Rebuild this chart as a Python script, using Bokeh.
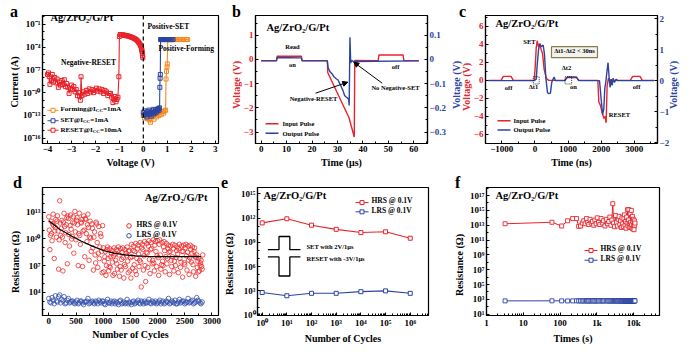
import math
from bokeh.plotting import figure
from bokeh.models import (Range1d, LinearAxis, FixedTicker, CustomJSTickFormatter, Label,
                          Span, Arrow, NormalHead)
from bokeh.layouts import row, column
from bokeh.embed import file_html
from bokeh.resources import INLINE

FONT = "Liberation Serif"
RED = "#e8232b"
BLUE = "#2b44a0"
ORANGE = "#f58a1f"

# ---------------- (a) I-V sweeps: voltage (V), log10 current (A) ----------------
forming_v = [0.0, 0.05, 0.1, 0.15, 0.2, 0.25, 0.3, 0.35, 0.4, 0.45, 0.5, 0.55, 0.6, 0.65, 0.7,
             0.75, 0.8, 0.85, 0.9, 0.93, 0.95, 0.97, 0.99, 1.0, 1.02, 1.08, 1.14, 1.2, 1.26,
             1.32, 1.38, 1.44, 1.5, 1.56, 1.62, 1.68, 1.74, 1.8, 1.85]
forming_logi = [-13.0, -13.3, -12.8, -13.4, -13.1, -13.6, -13.9, -13.2, -13.0, -13.5, -12.9,
                -13.2, -12.7, -13.0, -12.6, -12.9, -12.5, -12.7, -12.4, -12.3, -8.2, -7.2,
                -6.6, -6.2, -3.0, -3.0, -3.0, -3.0, -3.0, -3.0, -3.0, -3.0, -3.0, -3.0, -3.0,
                -3.0, -3.0, -3.0, -3.0]
set_v = [0.0, 0.03, 0.06, 0.09, 0.12, 0.15, 0.18, 0.21, 0.24, 0.27, 0.3, 0.33, 0.36, 0.39,
         0.42, 0.45, 0.48, 0.51, 0.54, 0.57, 0.6, 0.63, 0.66, 0.68, 0.69, 0.7, 0.71, 0.72,
         0.76, 0.8, 0.84, 0.88, 0.92, 0.96, 1.0, 1.04, 1.08, 1.12, 1.16, 1.2, 1.24]
set_logi = [-12.6, -13.0, -12.4, -12.9, -12.7, -13.2, -12.5, -12.8, -12.3, -12.9, -12.6, -13.1,
            -12.4, -12.7, -12.2, -12.8, -12.5, -12.3, -12.6, -12.2, -12.4, -12.1, -12.3,
            -12.0, -9.3, -8.1, -7.6, -3.0, -3.0, -3.0, -3.0, -3.0, -3.0, -3.0, -3.0, -3.0,
            -3.0, -3.0, -3.0, -3.0, -3.0]
reset_v = [-0.02, -0.03, -0.04, -0.05, -0.06, -0.07, -0.08, -0.1, -0.12, -0.14, -0.17, -0.2,
           -0.23, -0.26, -0.3, -0.34, -0.38, -0.42, -0.46, -0.5, -0.54, -0.58, -0.62, -0.66,
           -0.7, -0.74, -0.78, -0.82, -0.86, -0.9, -0.94, -0.97, -1.0,
           -1.02, -1.06, -1.1, -1.14, -1.18, -1.22, -1.27, -1.32, -1.37, -1.42, -1.48, -1.54,
           -1.6, -1.66, -1.72, -1.78, -1.84, -1.9, -1.96, -2.02, -2.08, -2.14, -2.2, -2.26,
           -2.32, -2.38, -2.44, -2.5, -2.56, -2.6, -2.63, -2.66, -2.7, -2.75, -2.8, -2.85,
           -2.9, -2.95, -3.0, -3.05, -3.1, -3.15, -3.2, -3.25, -3.3, -3.35, -3.4, -3.45, -3.5,
           -3.55, -3.6, -3.65, -3.7, -3.75, -3.8, -3.85, -3.9, -3.93, -3.96, -4.0]
reset_logi = [-5.4, -5.15, -4.85, -4.6, -4.4, -4.24, -4.1, -3.9, -3.75, -3.62, -3.47, -3.34,
              -3.22, -3.12, -3.0, -2.92, -2.85, -2.79, -2.73, -2.68, -2.63, -2.59, -2.55,
              -2.52, -2.49, -2.46, -2.43, -2.41, -2.39, -2.37, -2.35, -2.34, -2.6,
              -7.9, -10.6, -10.9, -11.2, -10.5, -10.8, -11.3, -10.6, -10.1, -10.1, -10.4,
              -9.9, -9.7, -10.1, -9.6, -9.9, -9.5, -9.8, -9.4, -9.7, -10.0, -9.6, -9.9, -9.5,
              -10.1, -9.7, -10.2, -9.9, -10.4, -7.9, -11.0, -10.5, -10.0, -10.4, -9.6, -9.9,
              -9.2, -9.6, -9.0, -9.5, -10.1, -9.3, -8.8, -9.2, -8.3, -8.9, -8.4, -9.0, -8.6,
              -9.3, -8.2, -8.7, -8.0, -8.6, -7.6, -8.4, -8.9, -7.9, -7.4, -7.6]

# ---------------- (b) pulse response (us, V) ----------------
b_in_t = [0, 6, 6.3, 15.8, 16.1, 26.0, 26.2, 30, 34.5, 36.6, 36.8, 46, 46.3, 55.8, 56.1, 62]
b_in_v = [-0.05, -0.05, 0.13, 0.13, -0.05, -0.05, -0.55, -1.4, -2.4, -3.2, -0.04, -0.05,
          0.18, 0.18, -0.05, -0.05]
b_out_t = [0, 6, 6.3, 15.8, 16.1, 26.0, 26.3, 27.0, 28.0, 28.6, 29.5, 30.2, 30.9, 31.5, 32.2,
           32.8, 33.4, 33.9, 34.4, 34.6, 34.9, 35.2, 35.6, 36.2, 62]
b_out_v = [-0.006, -0.006, 0.008, 0.006, -0.006, -0.006, -0.034, -0.05, -0.061, -0.072,
           -0.08, -0.085, -0.1, -0.113, -0.13, -0.149, -0.155, -0.159, -0.165, -0.19, 0.091,
           -0.015, -0.004, -0.009, -0.006]

# ---------------- (c) pulse response (ns, V) ----------------
c_in_t = [-1400, -1020, -950, -720, -650, -20, 10, 40, 70, 110, 150, 190, 230, 280, 350, 420,
          910, 980, 1250, 1320, 1900, 1930, 1980, 2030, 2080, 2120, 2150, 2180, 2220, 2260,
          2300, 2350, 2880, 2950, 3170, 3240, 3600]
c_in_v = [0, 0, 0.45, 0.45, 0, 0, 1.5, 3.6, 4.4, 3.7, 4.1, 3.4, 3.0, 1.2, 0.2, 0, 0, 0.38,
          0.38, 0, 0, -2.4, -2.8, -3.6, -4.2, -4.0, -4.7, -0.6, 0.25, -0.15, 0.1, 0, 0, 0.45,
          0.45, 0, 0]
c_out_t = [-1400, -20, 40, 70, 110, 150, 200, 250, 290, 330, 380, 420, 470, 510, 550, 580, 620,
           900, 970, 1260, 1330, 1950, 2000, 2045, 2080, 2110, 2140, 2175, 2208, 2240, 2270,
           2300, 2330, 2360, 2400, 2450, 2500, 3600]
c_out_v = [0, 0, 0.05, 0.5, 1.0, 1.18, 1.1, 1.15, 0.85, 0.1, -0.38, -0.42, -0.4, -0.05, 0.05,
           0.12, 0.0, 0, 0.1, 0.1, 0, 0, -0.6, -1.1, -0.9, -0.25, -0.05, 0.3, 0.58, 0.1, -0.22,
           0.05, -0.15, 0.08, -0.06, 0.04, 0, 0]
c_edges = [40, 1010]          # delta-t1 / delta-t2 edges (ns)

# ---------------- (d) endurance: log10 resistance, one value every 40 cycles ----------------
d_step = 40
hrs_a = [12.5, 12.0, 12.8, 11.3, 12.6, 14.3, 12.1, 12.9, 11.6, 12.3,
         12.7, 11.9, 13.1, 12.4, 12.9, 11.8, 12.6, 12.2, 12.8, 12.0,
         11.2, 10.8, 11.7, 11.4, 10.3, 9.0, 8.6, 9.1, 8.9, 8.7,
         9.0, 8.8, 9.1, 8.9, 9.0, 8.8, 9.1, 8.7, 9.4, 9.2,
         9.5, 9.3, 9.6, 9.4, 9.7, 9.5, 9.8, 9.6, 9.9, 9.7,
         9.8, 9.9, 9.6, 9.7, 9.5, 9.3, 9.2, 9.4, 9.3, 9.1,
         9.4, 9.2, 9.3, 9.4, 9.2, 9.3, 9.1, 9.0, 8.2, 7.8, 7.6]
hrs_b = [11.0, 10.6, 11.5, 12.2, 10.9, 11.8, 10.2, 11.4, 12.4, 10.5,
         11.1, 12.5, 10.8, 11.6, 10.4, 12.2, 11.0, 10.6, 11.3, 10.1,
         9.0, 8.2, 9.6, 7.8, 8.6, 6.3, 5.9, 7.8, 6.8, 7.4,
         6.1, 7.2, 8.2, 6.5, 7.9, 6.9, 7.5, 6.4, 8.0, 7.1,
         6.0, 8.3, 7.4, 8.8, 7.0, 8.4, 7.7, 8.9, 7.3, 8.6,
         7.9, 8.2, 7.5, 8.7, 7.2, 8.5, 7.6, 8.9, 7.0, 8.3,
         7.8, 8.6, 7.3, 8.1, 7.6, 8.8, 7.1, 8.0, 6.8, 6.4, 6.9]
hrs_c = [8.8, 9.8, 7.8, 10.2, 6.6, 10.4, 6.4, 9.6, 7.2, 9.2,
         10.0, 8.4, 9.9, 7.0, 9.4, 6.9, 8.0, 9.7, 7.6, 8.6,
         6.5, 7.3, 6.8, 9.1, 6.2, 7.5, 7.0, 6.4, 8.0, 5.9,
         8.3, 6.6, 5.8, 7.7, 5.6, 8.4, 6.2, 7.9, 6.7, 8.6,
         7.8, 6.9, 4.6, 6.5, 5.2, 6.8, 6.1, 7.2, 6.4, 6.9,
         5.9, 6.6, 7.0, 6.3, 7.8, 6.0, 6.9, 6.4, 7.9, 6.2,
         6.8, 5.7, 7.1, 6.5, 6.0, 7.4, 6.3, 5.8, 7.5, 7.0, 6.6]
hrs_d = [10.4, 11.7, 10.9, 12.0, 9.9, 11.2, 11.9, 10.7, 12.6, 11.5,
         10.3, 11.8, 12.1, 10.6, 11.9, 10.9, 12.3, 11.6, 10.2, 11.7,
         10.2, 11.9, 8.4, 10.6, 11.5,
         8.0, 8.8, 6.9, 8.4, 8.1, 7.6, 8.7, 6.9, 8.5, 7.1, 8.1, 8.6, 5.6,
         8.7, 6.4, 8.9, 7.6, 9.0, 8.1, 8.5, 9.2, 8.8, 7.6, 9.3, 8.1, 9.4, 7.1, 9.1, 8.0,
         8.9, 8.6, 8.0, 7.5, 8.7, 8.9, 7.4, 8.6, 9.0, 8.5, 7.9, 8.4, 8.6, 7.9, 6.3, 7.3, 8.2]
lrs_a = [3.3, 2.8, 3.1, 3.6, 2.9, 3.7, 3.2, 3.5, 2.8, 3.3,
         2.9, 3.0, 2.7, 3.1, 2.8, 3.0, 2.6, 2.9, 3.3, 2.8,
         3.0, 2.7, 2.9, 3.1, 2.8, 3.0, 2.6, 3.2, 2.8, 2.7,
         3.0, 2.9, 2.6, 3.1, 2.8, 2.7, 3.2, 2.9, 2.6, 3.0,
         2.8, 3.1, 2.7, 2.9, 3.0, 2.8, 3.2, 2.7, 2.9, 3.0,
         2.8, 3.1, 2.9, 2.7, 3.0, 3.3, 2.8, 2.9, 3.1, 2.7,
         3.2, 2.9, 3.0, 2.8, 3.3, 2.9, 3.1, 2.8, 3.4, 3.0, 2.7]
lrs_b = [2.9, 3.4, 2.7, 3.0, 3.5, 2.8, 3.0, 2.7, 3.1, 2.8,
         3.0, 2.8, 2.9, 2.7, 3.0, 2.8, 2.9, 3.0, 2.7, 2.9,
         2.8, 3.0, 2.7, 2.9, 3.0, 2.7, 2.9, 2.8, 3.0, 2.9,
         2.7, 2.8, 3.0, 2.7, 2.9, 2.8, 2.7, 2.8, 2.9, 2.7,
         2.9, 2.8, 3.0, 2.7, 2.8, 2.9, 2.8, 3.0, 2.8, 2.7,
         2.9, 2.7, 3.0, 2.8, 2.9, 2.7, 3.0, 2.8, 2.7, 2.9,
         2.8, 3.0, 2.7, 2.9, 2.8, 3.0, 2.7, 2.9, 3.1, 2.8, 2.9]
fit_cycles = [0, 200, 400, 600, 800, 1000, 1200, 1400, 1600, 1800, 2000, 2200, 2400, 2600, 2800]
fit_log = [12.05, 11.1, 10.4, 9.75, 9.2, 8.7, 8.4, 8.2, 8.1, 8.05, 8.02, 8.02, 8.02, 8.02, 8.02]

# ---------------- (e) pulse endurance ----------------
e_cycles = [1, 10, 100, 1000, 10000, 100000, 1000000]
e_hrs = [2.5e11, 8e11, 1.3e11, 4e10, 1.6e10, 2e10, 3.2e9]
e_lrs = [630, 250, 500, 500, 800, 1000, 500]
e_pulse_x = [1.7, 4.8, 4.8, 13.2, 13.2, 35.5]          # pulse sketch (cycles axis)
e_set_pulse = [8.09, 8.09, 9.72, 9.72, 8.09, 8.09]     # log10 levels
e_reset_pulse = [7.2, 7.2, 4.84, 4.84, 7.2, 7.2]

# ---------------- (f) retention ----------------
f_t = [3.2, 60, 110, 160, 220, 280, 320, 360, 400, 440, 480, 520, 560, 600, 650, 700, 760, 820,
       880, 950, 1020, 1100, 1200, 1300, 1400, 1500, 1650, 1800, 1950, 2100, 2250, 2400, 2550,
       2700, 2850, 3000, 3200, 3400, 3600, 3800, 4000, 4200, 4400, 4600, 4800, 5000, 5200,
       5400, 5600, 5800, 6000, 6200, 6400, 6600, 6800, 7000, 7200, 7400, 7600, 7800, 8000,
       8200, 8400, 8600, 8800, 9000, 9200, 9400, 9600, 9800, 10000, 10200, 10400, 10600, 10800]
f_hrs = [13.2, 13.4, 12.9, 13.6, 13.9, 13.9, 12.85, 12.9, 13.3, 13.6, 13.2, 13.9, 13.4, 13.1,
         13.8, 13.3, 13.5, 13.0, 13.7, 13.2, 14.0, 13.4, 13.1, 13.9, 13.3, 13.6, 12.9, 13.8,
         13.2, 13.5, 14.1, 13.0, 13.7, 15.9, 13.3, 12.8,
         14.3, 13.4, 12.9, 13.8, 14.2, 13.1, 13.6, 12.7, 14.0, 13.2, 12.8, 13.9, 14.4, 13.0,
         13.5, 12.6, 14.1, 13.3, 15.1, 12.9, 13.7, 15.1, 13.2, 12.7, 14.6, 13.4, 12.8, 15.0,
         13.1, 12.6, 14.2, 13.5, 12.5, 13.8, 12.9, 12.4, 13.6, 13.0, 13.3]
f_lrs = [2.80, 2.81, 2.80, 2.79, 2.80, 2.81, 2.80, 2.80, 2.79, 2.80, 2.81, 2.80, 2.80, 2.79, 2.80,
         2.80, 2.81, 2.80, 2.79, 2.80, 2.80, 2.81, 2.80, 2.80, 2.79, 2.80, 2.81, 2.80, 2.80, 2.79,
         2.80, 2.80, 2.81, 2.80, 2.79, 2.80, 2.80, 2.81, 2.80, 2.80, 2.79, 2.80, 2.81, 2.80, 2.80,
         2.79, 2.80, 2.80, 2.81, 2.80, 2.79, 2.80, 2.80, 2.81, 2.80, 2.80, 2.79, 2.80, 2.81, 2.80,
         2.80, 2.79, 2.80, 2.80, 2.81, 2.80, 2.79, 2.80, 2.80, 2.81, 2.80, 2.80, 2.79, 2.80, 2.80]

panel_letters = ["a", "b", "c", "d", "e", "f"]
TITLE = "Ag/ZrO₂/G/Pt"

SUP_JS = """
const s = {'0':'⁰','1':'¹','2':'²','3':'³','4':'⁴','5':'⁵','6':'⁶','7':'⁷','8':'⁸','9':'⁹','-':'⁻'};
const e = Math.round(Math.log10(tick));
return '10' + String(e).split('').map(c => s[c]).join('');
"""


def pairs(xs, ys):
    n = min(len(xs), len(ys))
    return list(xs[:n]), list(ys[:n])


def exp10(vals):
    return [10 ** v for v in vals]


def style_axis(ax, color="black"):
    ax.axis_label_text_font = FONT
    ax.axis_label_text_font_style = "bold"
    ax.axis_label_text_font_size = "10px"
    ax.axis_label_text_color = color
    ax.major_label_text_font = FONT
    ax.major_label_text_font_style = "bold"
    ax.major_label_text_font_size = "9px"
    ax.major_label_text_color = color
    ax.axis_line_width = 1.2
    ax.major_tick_in = 3
    ax.major_tick_out = 0
    ax.minor_tick_in = 2
    ax.minor_tick_out = 0
    ax.major_tick_line_width = 1
    ax.major_label_standoff = 2
    ax.axis_label_standoff = 2


class Panel:
    def __init__(self, box, fr, xr, yr, xlog=False, ylog=False):
        x0, y0, w, h = box
        L, R, T, B = fr
        self.fr, self.xr, self.yr, self.xlog, self.ylog = fr, xr, yr, xlog, ylog
        xrr = (10 ** xr[0], 10 ** xr[1]) if xlog else xr
        yrr = (10 ** yr[0], 10 ** yr[1]) if ylog else yr
        p = figure(width=w, height=h, output_backend="svg", toolbar_location=None,
                   x_range=Range1d(*xrr), y_range=Range1d(*yrr),
                   x_axis_type="log" if xlog else "linear",
                   y_axis_type="log" if ylog else "linear",
                   min_border_left=L - x0, min_border_right=x0 + w - R,
                   min_border_top=T - y0, min_border_bottom=y0 + h - B)
        p.xgrid.visible = False
        p.ygrid.visible = False
        p.outline_line_color = "black"
        p.outline_line_width = 1.2
        p.background_fill_color = "white"
        p.border_fill_color = "white"
        self.p = p

    def x(self, X):
        L, R, T, B = self.fr
        t = (X - L) / (R - L)
        v = self.xr[0] + t * (self.xr[1] - self.xr[0])
        return 10 ** v if self.xlog else v

    def y(self, Y):
        L, R, T, B = self.fr
        t = (B - Y) / (B - T)
        v = self.yr[0] + t * (self.yr[1] - self.yr[0])
        return 10 ** v if self.ylog else v

    def text(self, X, Y, s, size="7px", color="black", align="left", baseline="middle"):
        L, R, T, B = self.fr
        self.p.add_layout(Label(x=X - L, y=B - Y, x_units="screen", y_units="screen", text=s,
                                text_font=FONT, text_font_size=size, text_font_style="bold",
                                text_color=color, text_align=align, text_baseline=baseline))

    def leg(self, X1, X2, Y, color, marker="square", line=True, msize=4, width=1.0):
        if line:
            self.p.line([self.x(X1), self.x(X2)], [self.y(Y), self.y(Y)], line_color=color,
                        line_width=width)
        if marker:
            self.p.scatter([self.x((X1 + X2) / 2)], [self.y(Y)], marker=marker, size=msize,
                           line_color=color, fill_color="white", line_width=1)


def lin_ticker(major, minor):
    return FixedTicker(ticks=major, minor_ticks=minor)


# page-level text placed outside the plot frames: (text, x, y, colour)
page_text = []

# ======================= (a) =======================
A = Panel((0, 0, 230, 176), (42, 218, 14, 149), (-4.21, 3.14), (-16.7, 0.17), ylog=True)
pa = A.p
pa.xaxis.axis_label = "Voltage (V)"
pa.xaxis.ticker = lin_ticker([-4, -3, -2, -1, 0, 1, 2, 3], [-3.5, -2.5, -1.5, -0.5, 0.5, 1.5, 2.5])
pa.yaxis.ticker = FixedTicker(ticks=[10.0 ** k for k in (-16, -13, -10, -7, -4, -1)],
                              minor_ticks=[10.0 ** k for k in range(-16, 1)])
pa.yaxis.formatter = CustomJSTickFormatter(code=SUP_JS)
for ax in pa.xaxis + pa.yaxis:
    style_axis(ax)
page_text.append(("Current (A)", 14, 82, "black"))
pa.add_layout(Span(location=0, dimension="height", line_color="black", line_dash="4 3",
                   line_width=1.2))
for vx, vy, col in ((reset_v, reset_logi, RED), (forming_v, forming_logi, ORANGE),
                    (set_v, set_logi, BLUE)):
    xs, ys = pairs(vx, vy)
    pa.line(xs, exp10(ys), line_color=col, line_width=1.1)
    pa.scatter(xs, exp10(ys), marker="square", size=4, line_color=col, fill_color=None,
               line_width=1)
A.text(50, 23, TITLE, "10.5px")
A.text(88, 68, "Negative-RESET", "7.5px", align="center")
A.text(147, 32, "Positive-SET", "7.5px")
A.text(158, 54, "Positive-Forming", "7.5px")
for Y, col, pre, post, w in ((114, ORANGE, "Forming@I", "=1mA", 35.3),
                             (125, BLUE, "SET@I", "=1mA", 22.5),
                             (135, RED, "RESET@I", "=10mA", 32.2)):
    A.leg(47, 58, Y, col)
    A.text(60, Y, pre, "7px")
    A.text(60 + w, Y + 2, "CC", "5px")
    A.text(60 + w + 7.2, Y, post, "7px")

# ======================= (b) =======================
Bp = Panel((230, 0, 230, 176), (255, 427, 15, 143), (-2.24, 65.4), (-3.47, 1.81))
pb = Bp.p
pb.extra_y_ranges = {"out": Range1d(-0.347, 0.181)}
rax = LinearAxis(y_range_name="out")
pb.add_layout(rax, "right")
pb.xaxis.axis_label = "Time (μs)"
pb.xaxis.ticker = lin_ticker([0, 10, 20, 30, 40, 50, 60], [5, 15, 25, 35, 45, 55, 65])
pb.yaxis[0].ticker = lin_ticker([-3, -2, -1, 0, 1], [-3.5, -2.5, -1.5, -0.5, 0.5, 1.5])
rax.ticker = lin_ticker([-0.3, -0.2, -0.1, 0.0, 0.1], [-0.25, -0.15, -0.05, 0.05, 0.15])
style_axis(pb.xaxis[0])
style_axis(pb.yaxis[0], RED)
style_axis(rax, BLUE)
page_text.append(("Voltage (V)", 236, 85, RED))
page_text.append(("Voltage (V)", 456, 85, BLUE))
xs, ys = pairs(b_in_t, b_in_v)
pb.line(xs, ys, line_color=RED, line_width=1.4)
xs, ys = pairs(b_out_t, b_out_v)
pb.line(xs, ys, line_color=BLUE, line_width=1.4, y_range_name="out")
for (X1, Y1, X2, Y2) in ((315, 92.7, 347.3, 81.7), (381.7, 82.7, 353.3, 61.7)):
    pb.add_layout(Arrow(end=NormalHead(size=5, fill_color="black", line_color="black"),
                        x_start=Bp.x(X1), y_start=Bp.y(Y1), x_end=Bp.x(X2), y_end=Bp.y(Y2),
                        line_color="black", line_width=1))
Bp.text(266, 27, TITLE, "10.5px")
Bp.text(292, 46, "Read", "6.5px", align="center")
Bp.text(292, 64, "on", "6.5px", align="center")
Bp.text(395, 66, "off", "6.5px", align="center")
Bp.text(313, 98, "Negative-RESET", "6.5px", align="center")
Bp.text(395, 87, "No Negative-SET", "6.5px", align="center")
Bp.leg(265, 278, 123.3, RED, marker=None, width=1.5)
Bp.leg(265, 278, 132.7, BLUE, marker=None, width=1.5)
Bp.text(282, 123.3, "Input Pulse", "6.5px")
Bp.text(282, 132.7, "Output Pulse", "6.5px")

# ======================= (c) =======================
C = Panel((460, 0, 240, 176), (485, 657, 15, 146), (-1490, 3700), (-7.0, 7.2))
pc = C.p
pc.extra_y_ranges = {"out": Range1d(-2.03, 2.105)}
rax_c = LinearAxis(y_range_name="out")
pc.add_layout(rax_c, "right")
pc.xaxis.axis_label = "Time (ns)"
pc.xaxis.ticker = lin_ticker([-1000, 0, 1000, 2000, 3000], [-500, 500, 1500, 2500, 3500])
pc.yaxis[0].ticker = lin_ticker([-6, -4, -2, 0, 2, 4, 6], [-7, -5, -3, -1, 1, 3, 5, 7])
rax_c.ticker = lin_ticker([-2, -1, 0, 1, 2], [-1.5, -0.5, 0.5, 1.5])
style_axis(pc.xaxis[0])
style_axis(pc.yaxis[0], RED)
style_axis(rax_c, BLUE)
page_text.append(("Voltage (V)", 466, 87, RED))
page_text.append(("Voltage (V)", 673, 85, BLUE))
xs, ys = pairs(c_in_t, c_in_v)
pc.line(xs, ys, line_color=RED, line_width=1.4)
xs, ys = pairs(c_out_t, c_out_v)
pc.line(xs, ys, line_color=BLUE, line_width=1.4, y_range_name="out")
pc.rect(x=c_edges, y=[0, 0], width=[180, 200], height=[0.8, 0.8], fill_color=None,
        line_color="black", line_dash="1 1", line_width=0.8)
pc.rect(x=[C.x(574)], y=[C.y(52.5)], width=46, height=11, width_units="screen",
        height_units="screen", fill_color="#f2f2ee", line_color="#8c7d48", line_width=1.2)
C.text(574, 52.5, "Δt1-Δt2 < 30ns", "6.5px", align="center")
C.text(495, 26, TITLE, "10.5px")
C.text(529, 44, "SET", "6.5px", align="center")
C.text(566, 70, "Δt2", "6.5px", align="center")
C.text(533, 89, "Δt1", "6.5px", align="center")
C.text(508, 89.5, "off", "6.5px", align="center")
C.text(573, 89, "on", "6.5px", align="center")
C.text(636, 89, "off", "6.5px", align="center")
C.text(619, 117, "RESET", "6.5px", align="center")
C.leg(497, 510, 122.7, RED, marker=None, width=1.5)
C.leg(497, 510, 132.3, BLUE, marker=None, width=1.5)
C.text(513, 122.7, "Input Pulse", "6.5px")
C.text(513, 132.3, "Output Pulse", "6.5px")

# ======================= (d) =======================
D = Panel((0, 176, 230, 176), (42, 218, 185, 315), (-116, 3120), (1.38, 15.8), ylog=True)
pd_ = D.p
pd_.xaxis.axis_label = "Number of Cycles"
pd_.xaxis.ticker = lin_ticker([0, 500, 1000, 1500, 2000, 2500, 3000],
                              [250, 750, 1250, 1750, 2250, 2750])
pd_.yaxis.ticker = FixedTicker(ticks=[1e4, 1e7, 1e10, 1e13],
                               minor_ticks=[10.0 ** k for k in range(2, 16)])
pd_.yaxis.formatter = CustomJSTickFormatter(code=SUP_JS)
for ax in pd_.xaxis + pd_.yaxis:
    style_axis(ax)
page_text.append(("Resistance (Ω)", 15, 262, "black"))
D_RED = "#ef2b2b"
D_BLUE = "#3552aa"
for k, vals in enumerate((hrs_a, hrs_b, hrs_c, hrs_d)):
    xs = [d_step * i + 10 * k for i in range(len(vals))]
    pd_.scatter(xs, exp10(vals), marker="circle", size=4.5, line_color=D_RED, fill_color=None,
                line_width=0.8)
for k, vals in enumerate((lrs_a, lrs_b)):
    xs = [d_step * i + 20 * k for i in range(len(vals))]
    pd_.scatter(xs, exp10(vals), marker="circle", size=4.5, line_color=D_BLUE, fill_color=None,
                line_width=0.8)
xs, ys = pairs(fit_cycles, fit_log)
pd_.line(xs, exp10(ys), line_color="black", line_width=1.2)
D.text(207, 197, TITLE, "10.5px", align="right")
D.leg(126, 131, 224, D_RED, marker="circle", line=False, msize=4.5)
D.leg(126, 131, 234, D_BLUE, marker="circle", line=False, msize=4.5)
D.text(136, 224, "HRS @ 0.1V", "7.5px")
D.text(136, 234, "LRS @ 0.1V", "7.5px")

# ======================= (e) =======================
E = Panel((230, 176, 230, 176), (257, 428, 187, 317), (-0.19, 6.74), (-0.04, 15.77),
          xlog=True, ylog=True)
pe = E.p
pe.xaxis.axis_label = "Number of Cycles"
pe.xaxis.ticker = FixedTicker(ticks=[10.0 ** k for k in range(0, 7)],
                              minor_ticks=[m * 10.0 ** k for k in range(-1, 7) for m in range(2, 10)])
pe.yaxis.ticker = FixedTicker(ticks=[10.0 ** k for k in (0, 3, 6, 9, 12, 15)],
                              minor_ticks=[10.0 ** k for k in range(0, 16)])
pe.xaxis.formatter = CustomJSTickFormatter(code=SUP_JS)
pe.yaxis.formatter = CustomJSTickFormatter(code=SUP_JS)
for ax in pe.xaxis + pe.yaxis:
    style_axis(ax)
page_text.append(("Resistance (Ω)", 229, 264, "black"))
for vals, col in ((e_hrs, RED), (e_lrs, BLUE)):
    xs, ys = pairs(e_cycles, vals)
    pe.line(xs, ys, line_color=col, line_width=1.1)
    pe.scatter(xs, ys, marker="square", size=4, line_color=col, fill_color="white",
               line_width=1)
for lv in (e_set_pulse, e_reset_pulse):
    xs, ys = pairs(e_pulse_x, lv)
    pe.line(xs, exp10(ys), line_color="black", line_width=1.3)
E.text(263, 197, TITLE, "10.5px")
E.text(306, 247.5, "SET with 2V/1μs", "6.5px")
E.text(306, 260, "RESET with -3V/1μs", "6.5px")
E.leg(355, 368, 202.3, RED)
E.leg(355, 368, 211.7, BLUE)
E.text(371, 202.3, "HRS @ 0.1V", "7.5px")
E.text(371, 211.7, "LRS @ 0.1V", "7.5px")

# ======================= (f) =======================
F = Panel((460, 176, 240, 176), (486, 659, 185, 317), (0.0, 4.7), (0.83, 18.09),
          xlog=True, ylog=True)
pf = F.p
pf.xaxis.axis_label = "Times (s)"
pf.xaxis.ticker = FixedTicker(ticks=[1, 10, 100, 1000, 10000],
                              minor_ticks=[m * 10.0 ** k for k in range(0, 5) for m in range(2, 10)])
pf.yaxis.ticker = FixedTicker(ticks=[10.0 ** k for k in range(1, 18, 2)],
                              minor_ticks=[10.0 ** k for k in range(1, 19)])
pf.xaxis.formatter = CustomJSTickFormatter(
    code="return tick >= 1000 ? (Math.round(tick / 1000)) + 'k' : String(Math.round(tick));")
pf.yaxis.formatter = CustomJSTickFormatter(code=SUP_JS)
for ax in pf.xaxis + pf.yaxis:
    style_axis(ax)
page_text.append(("Resistance (Ω)", 459, 265, "black"))
for vals, col in ((f_hrs, RED), (f_lrs, BLUE)):
    xs, ys = pairs(f_t, vals)
    pf.line(xs, exp10(ys), line_color=col, line_width=1.0)
    pf.scatter(xs, exp10(ys), marker="square", size=4, line_color=col, fill_color="white",
               line_width=0.9)
F.text(495, 197, TITLE, "10.5px")
F.leg(584, 597, 250, RED)
F.leg(584, 597, 260, BLUE)
F.text(600, 250, "HRS @ 0.1V", "7.5px")
F.text(600, 260, "LRS @ 0.1V", "7.5px")

# panel letters (outside the frames)
letter_pos = [(10, 4), (232, 4), (459, 4), (13, 175), (221, 175), (455, 175)]
html_bits = []
for t, (x, y) in zip(panel_letters, letter_pos):
    html_bits.append(
        '<div style="position:absolute;left:%dpx;top:%dpx;font-family:\'Liberation Serif\';'
        'font-weight:bold;font-size:16px;line-height:16px;z-index:10;pointer-events:none;">%s</div>'
        % (x, y, t))
for t, x, y, col in page_text:
    html_bits.append(
        '<div style="position:absolute;left:%dpx;top:%dpx;transform:translate(-50%%,-50%%) '
        'rotate(-90deg);white-space:nowrap;font-family:\'Liberation Serif\';font-weight:bold;'
        'font-size:10px;line-height:11px;color:%s;z-index:10;pointer-events:none;">%s</div>'
        % (x, y, col, t))

layout = column(row(pa, pb, pc), row(pd_, pe, pf))
page = file_html(layout, INLINE).replace("</body>", "".join(html_bits) + "</body>")
open("out.html", "w").write(page)
